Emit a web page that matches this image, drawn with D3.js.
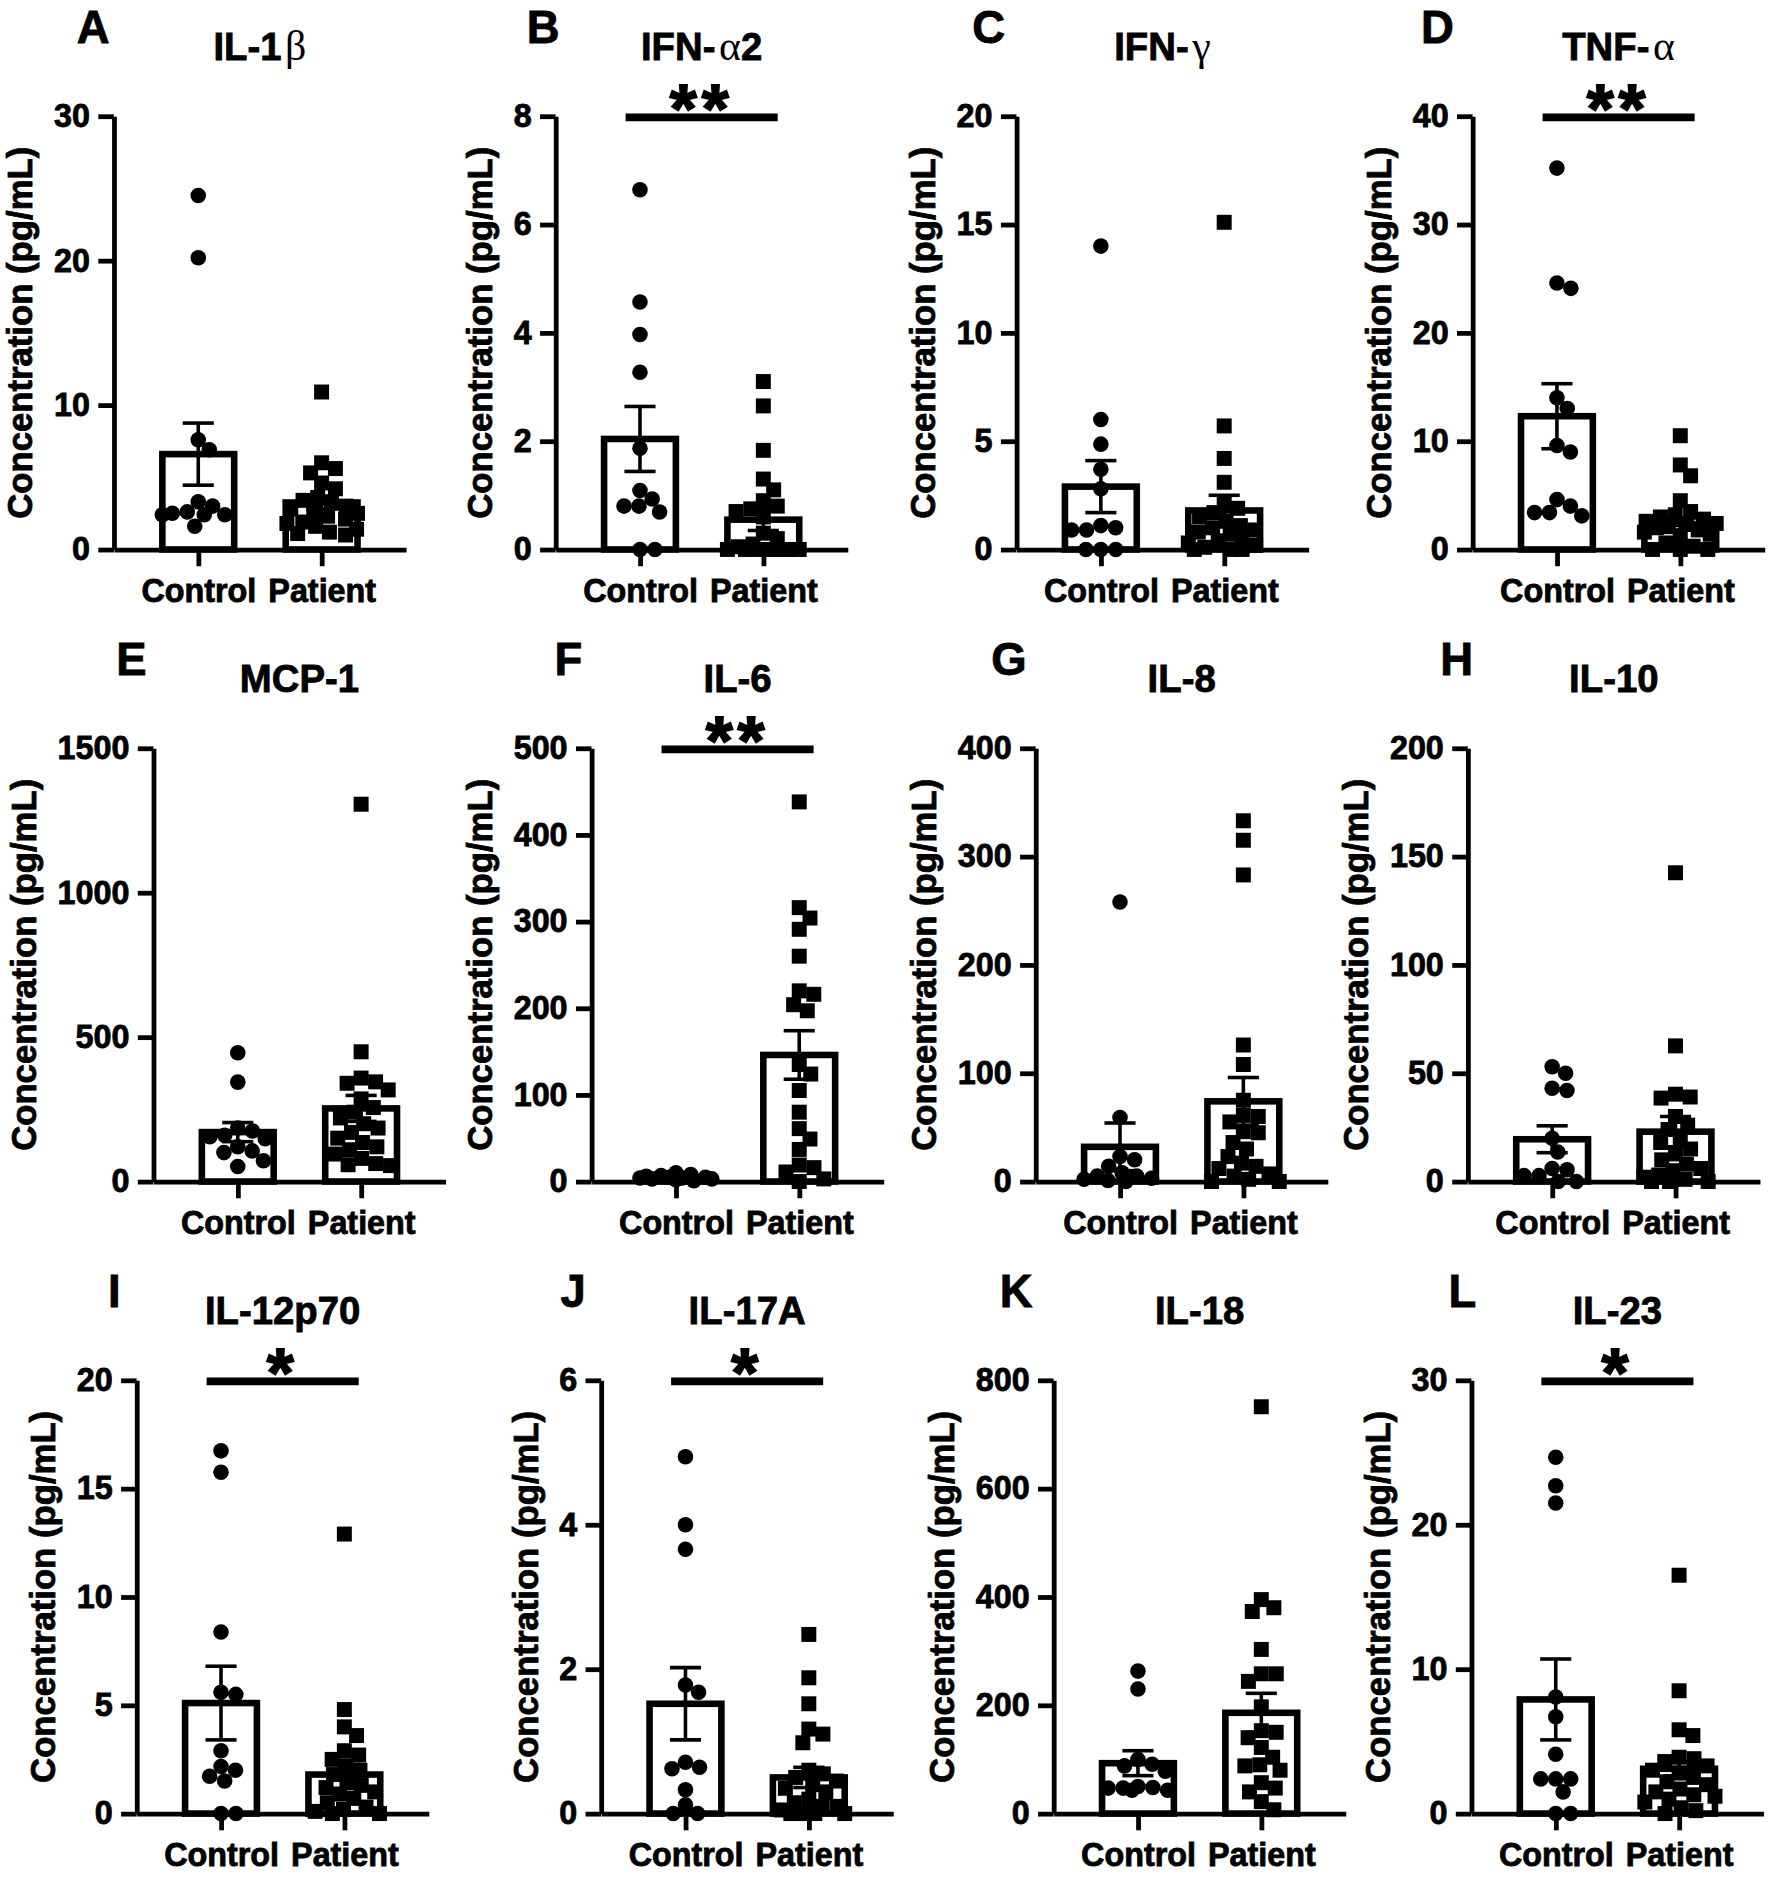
<!DOCTYPE html>
<html>
<head>
<meta charset="utf-8">
<script src="https://cdnjs.cloudflare.com/ajax/libs/d3/7.8.5/d3.min.js"></script>
<style>
  body { margin: 0; background: #fff; }
  svg text { stroke: #000; stroke-width: 0.7px; }
  svg text tspan.greek { stroke: none; }
</style>
</head>
<body>
<script>
// ---- data ----
const panelLetters = ["A", "B", "C", "D", "E", "F", "G", "H", "I", "J", "K", "L"];
const cytokines = ["IL-1β", "IFN-α2", "IFN-γ", "TNF-α", "MCP-1", "IL-6", "IL-8", "IL-10", "IL-12p70", "IL-17A", "IL-18", "IL-23"];
const groups = ["Control", "Patient"];
const yMax = [30, 8, 20, 40, 1500, 500, 400, 200, 20, 6, 800, 30];
const yTicks = [
  [0, 10, 20, 30], [0, 2, 4, 6, 8], [0, 5, 10, 15, 20], [0, 10, 20, 30, 40],
  [0, 500, 1000, 1500], [0, 100, 200, 300, 400, 500], [0, 100, 200, 300, 400], [0, 50, 100, 150, 200],
  [0, 5, 10, 15, 20], [0, 2, 4, 6], [0, 200, 400, 600, 800], [0, 10, 20, 30]
];
const significance = ["", "**", "", "**", "", "**", "", "", "*", "*", "", "*"];

const controlMean = [6.6, 2.04, 2.9, 12.3, 171, 5.5, 32, 19.5, 5.1, 1.52, 93, 7.9];
const controlSEM  = [2.15, 0.6, 1.2, 3.0, 33, 1.0, 22, 6.2, 1.7, 0.5, 23, 2.8];
const patientMean = [3.25, 0.55, 1.8, 2.35, 253, 146, 74, 23, 1.8, 0.5, 186, 3.1];
const patientSEM  = [0.45, 0.2, 0.7, 0.55, 45, 28, 22, 7, 0.65, 0.14, 36, 0.5];

const controlValues = [
  [24.5, 20.2, 7.6, 6.9, 3.3, 3.0, 2.6, 2.5, 2.4, 2.4, 2.4, 1.6],
  [6.64, 4.57, 3.97, 3.27, 1.87, 1.09, 0.93, 0.8, 0.8, 0.69, 0, 0],
  [14.0, 6.0, 4.86, 3.7, 2.8, 1.1, 1.0, 0.9, 0.9, 0, 0, 0],
  [35.2, 24.6, 24.1, 14.0, 13.0, 9.6, 9.0, 4.6, 4.0, 3.4, 3.4, 3.1],
  [446, 344, 185, 175, 160, 155, 148, 120, 106, 100, 72, 52],
  [10, 8, 7, 6, 5, 5, 4, 4, 3, 3, 2, 1],
  [258, 59, 23, 20, 14, 8, 5, 5, 3, 2, 1, 0],
  [53, 50, 43, 42, 20, 13.6, 6, 5.4, 2.7, 2.7, 0, 0],
  [16.74, 15.75, 8.38, 5.6, 5.5, 2.9, 2.17, 2.0, 1.72, 1.5, 0, 0],
  [4.94, 4.0, 3.66, 1.78, 1.68, 0.71, 0.64, 0.62, 0.33, 0.12, 0, 0],
  [263, 230, 100, 91, 88, 78, 50, 48, 47, 47, 43, 43],
  [24.67, 22.7, 21.5, 8.07, 6.7, 4.1, 2.4, 2.4, 2.4, 1.5, 0, 0]
];
const patientValues = [
  [10.9, 6.0, 5.6, 5.3, 4.6, 4.2, 3.6, 3.4, 3.2, 3.0, 2.8, 2.6, 2.5, 2.3, 2.1, 1.9, 1.8, 1.6, 1.4, 1.2, 1.1, 1.0],
  [3.1, 2.65, 1.83, 1.3, 1.1, 0.9, 0.8, 0.75, 0.7, 0.6, 0.3, 0.2, 0.1, 0.05, 0, 0, 0, 0, 0, 0, 0, 0],
  [15.1, 5.7, 4.2, 3.1, 2.2, 1.9, 1.7, 1.5, 1.3, 1.1, 1.0, 0.9, 0.8, 0.7, 0.5, 0.4, 0.3, 0.2, 0.1, 0, 0, 0],
  [10.5, 7.8, 6.8, 4.5, 3.5, 3.2, 3.0, 2.8, 2.6, 2.4, 2.3, 2.1, 2.0, 1.8, 1.6, 1.4, 1.0, 0.6, 0.3, 0, 0, 0],
  [1306, 449, 358, 345, 340, 317, 286, 256, 240, 220, 200, 185, 170, 150, 135, 120, 110, 95, 80, 62, 58, 55],
  [438, 316, 304, 291, 260, 220, 216, 204, 197, 135, 124, 105, 80, 61, 49, 37, 19, 16, 11, 3, 0],
  [333, 315, 283, 126, 108, 75, 61, 60, 55, 46, 45, 36, 30, 23, 17, 14, 12, 7, 5, 2, 0, 0],
  [142.5, 62.6, 40.3, 39, 38.5, 30, 26, 24, 20, 18, 15, 12.7, 10, 8, 6, 5, 3, 2, 1, 0, 0, 0],
  [12.9, 4.8, 4.0, 3.6, 2.9, 2.7, 2.5, 2.2, 2.0, 1.8, 1.5, 1.3, 1.2, 1.0, 0.9, 0.7, 0.5, 0.3, 0.2, 0.1, 0, 0],
  [2.48, 1.88, 1.52, 1.17, 1.1, 0.98, 0.6, 0.55, 0.5, 0.45, 0.4, 0.35, 0.3, 0.2, 0.15, 0.1, 0.1, 0.05, 0, 0, 0, 0],
  [751, 395, 380, 373, 303, 258, 258, 244, 197, 153, 150, 140, 122, 104, 90, 88, 80, 57, 47, 40, 22, 7],
  [16.5, 8.5, 5.8, 5.4, 3.9, 3.8, 3.6, 3.3, 3.0, 2.8, 2.5, 2.2, 2.0, 1.7, 1.5, 1.3, 1.2, 1.0, 0.8, 0.4, 0.2, 0]
];

// ---- layout (drawn in a 1480 x 1568 box, scaled up to the window) ----
const FONT = "'Liberation Sans', Arial, sans-serif";
const rowTop = [97, 625, 1153];
const plotH = 362, plotW = 244;
const axisX = [95, 464, 849, 1230, 128, 494, 865, 1226, 114, 502, 880, 1229];
const letterX = [64, 440, 812, 1187, 97, 463, 828, 1203, 90, 468, 835, 1210];
const barW = 60, dot = 13, sq = 12.5;

const svg = d3.select("body").append("svg")
  .attr("width", 1772)
  .attr("height", 1877)
  .attr("viewBox", "0 0 1480 1568")
  .style("background", "#fff");

// simple beeswarm: push points sideways until they stop overlapping
function swarm(values, y, d, maxHalf) {
  const pts = values.map(v => ({ v: v, py: y(v), dx: 0 })).sort((a, b) => b.v - a.v);
  const placed = [];
  pts.forEach(p => {
    const near = placed.filter(q => Math.abs(q.py - p.py) < d);
    const cands = [0];
    near.forEach(q => {
      const w = Math.sqrt(d * d - (q.py - p.py) ** 2);
      cands.push(q.dx + w, q.dx - w);
    });
    cands.sort((a, b) => Math.abs(a) - Math.abs(b));
    const ok = cands.find(c => Math.abs(c) <= maxHalf + 0.01 &&
      near.every(q => Math.hypot(q.dx - c, q.py - p.py) >= d - 0.01));
    if (ok !== undefined) p.dx = ok;
    else {
      const grid = d3.range(-maxHalf, maxHalf + 0.1, maxHalf / 6);
      p.dx = d3.greatest(grid, c => d3.min(near, q => Math.hypot(q.dx - c, q.py - p.py)));
    }
    placed.push(p);
  });
  return pts;
}

// titles: greek letters in a thin serif like the original
function writeTitle(sel, str) {
  str.split(/([\u0370-\u03FF])/).filter(s => s.length).forEach(part => {
    const greek = /[\u0370-\u03FF]/.test(part);
    sel.append("tspan")
      .attr("class", greek ? "greek" : null)
      .attr("font-family", greek ? "'Liberation Serif', serif" : FONT)
      .attr("font-weight", greek ? "normal" : "bold")
      .attr("font-size", greek ? 35 : 32)
      .attr("dx", greek ? 3 : 0)
      .text(part);
  });
}

panelLetters.forEach((letter, i) => {
  const top = rowTop[Math.floor(i / 4)];
  const g = svg.append("g").attr("transform", `translate(${axisX[i]},${top})`);

  const y = d3.scaleLinear().domain([0, yMax[i]]).range([plotH, 0]);
  const x = d3.scalePoint().domain(groups).range([0, plotW]).padding(0.684);

  const means = [controlMean[i], patientMean[i]];
  const sems = [controlSEM[i], patientSEM[i]];
  const vals = [controlValues[i], patientValues[i]];

  // bars
  g.selectAll("rect.bar").data(groups).enter().append("rect")
    .attr("class", "bar")
    .attr("x", d => x(d) - barW / 2)
    .attr("y", (d, k) => y(means[k]))
    .attr("width", barW)
    .attr("height", (d, k) => plotH - y(means[k]))
    .attr("fill", "#fff")
    .attr("stroke", "#000")
    .attr("stroke-width", 5.5);

  // points
  const ctrl = swarm(vals[0], y, dot - 0.5, 30);
  g.selectAll("circle.pt").data(ctrl).enter().append("circle")
    .attr("class", "pt")
    .attr("cx", d => x("Control") + d.dx)
    .attr("cy", d => d.py)
    .attr("r", dot / 2)
    .attr("fill", "#000");

  const pat = swarm(vals[1], y, sq, 30);
  g.selectAll("rect.pt").data(pat).enter().append("rect")
    .attr("class", "pt")
    .attr("x", d => x("Patient") + d.dx - sq / 2)
    .attr("y", d => d.py - sq / 2)
    .attr("width", sq)
    .attr("height", sq)
    .attr("fill", "#000");

  // mean +/- SEM
  groups.forEach((grp, k) => {
    const lo = y(means[k] - sems[k]), hi = y(means[k] + sems[k]);
    const eb = g.append("g").attr("stroke", "#000").attr("stroke-width", 3);
    eb.append("line").attr("x1", x(grp)).attr("x2", x(grp)).attr("y1", lo).attr("y2", hi);
    eb.append("line").attr("x1", x(grp) - 13).attr("x2", x(grp) + 13).attr("y1", lo).attr("y2", lo);
    eb.append("line").attr("x1", x(grp) - 13).attr("x2", x(grp) + 13).attr("y1", hi).attr("y2", hi);
  });

  // axes
  const yAxis = g.append("g")
    .call(d3.axisLeft(y).tickValues(yTicks[i]).tickFormat(d3.format("d"))
      .tickSize(13).tickSizeOuter(0).tickPadding(7));
  const xAxis = g.append("g")
    .attr("transform", `translate(0,${plotH})`)
    .call(d3.axisBottom(x).tickSize(14).tickSizeOuter(0).tickPadding(11));
  [yAxis, xAxis].forEach(a => {
    a.attr("font-family", FONT).attr("font-size", 27).attr("font-weight", "bold");
    a.selectAll("path,line").attr("stroke", "#000").attr("stroke-width", 4);
    a.selectAll("text").attr("fill", "#000");
  });

  const bb = yAxis.node().getBBox();
  g.append("text")
    .attr("transform", `translate(${bb.x - 18},${plotH / 2}) rotate(-90)`)
    .attr("text-anchor", "middle")
    .attr("font-family", FONT)
    .attr("font-weight", "bold")
    .attr("font-size", 29)
    .text("Concentration (pg/mL)");

  // significance bar
  if (significance[i]) {
    const x1 = x("Control") - 12, x2 = x("Patient") + 12;
    g.append("line")
      .attr("x1", x1).attr("x2", x2)
      .attr("y1", y(yMax[i]) + 1).attr("y2", y(yMax[i]) + 1)
      .attr("stroke", "#000").attr("stroke-width", 6.5);
    g.append("text")
      .attr("x", (x1 + x2) / 2)
      .attr("y", y(yMax[i]) + 13)
      .attr("text-anchor", "middle")
      .attr("font-family", FONT)
      .attr("font-weight", "bold")
      .attr("font-size", 58)
      .attr("letter-spacing", 4)
      .style("stroke-width", "1.5px")
      .text(significance[i]);
  }

  // title and panel letter
  const t = svg.append("text")
    .attr("x", axisX[i] + plotW / 2)
    .attr("y", top - 47)
    .attr("text-anchor", "middle");
  writeTitle(t, cytokines[i]);

  svg.append("text")
    .attr("x", letterX[i])
    .attr("y", top - 61)
    .attr("font-family", FONT)
    .attr("font-weight", "bold")
    .attr("font-size", 38)
    .text(letter);
});
</script>
</body>
</html>
